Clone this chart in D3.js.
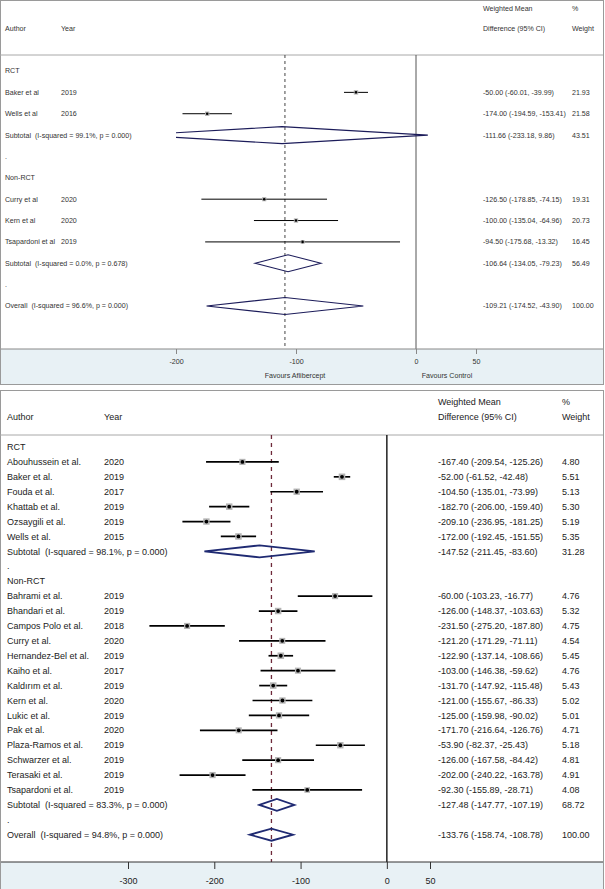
<!DOCTYPE html>
<html>
<head>
<meta charset="utf-8">
<script src="https://cdn.jsdelivr.net/npm/d3@7/dist/d3.min.js"></script>
<style>
  html, body { margin: 0; padding: 0; background: #fff; }
  svg { display: block; font-family: "Liberation Sans", Arial, sans-serif; }
</style>
</head>
<body>
<svg id="chart" width="605" height="889"></svg>
<script>
// ---------- TOP PANEL DATA ----------
const topLabels = ["RCT", "Baker et al", "Wells et al", "Subtotal  (I-squared = 99.1%, p = 0.000)", ".",
  "Non-RCT", "Curry et al", "Kern et al", "Tsapardoni et al", "Subtotal  (I-squared = 0.0%, p = 0.678)", ".",
  "Overall  (I-squared = 96.6%, p = 0.000)"];
const topYears = ["", "2019", "2016", "", "", "", "2020", "2020", "2019", "", "", ""];
const topTypes = ["head", "study", "study", "pool", "dot", "head", "study", "study", "study", "pool", "dot", "pool"];
const topEst = [null, -50.00, -174.00, -111.66, null, null, -126.50, -100.00, -94.50, -106.64, null, -109.21];
const topLo  = [null, -60.01, -194.59, -233.18, null, null, -178.85, -135.04, -175.68, -134.05, null, -174.52];
const topHi  = [null, -39.99, -153.41, 9.86, null, null, -74.15, -64.96, -13.32, -79.23, null, -43.90];
const topWeight = [null, 21.93, 21.58, 43.51, null, null, 19.31, 20.73, 16.45, 56.49, null, 100.00];
const topTicks = [-200, -100, 0, 50];

// ---------- BOTTOM PANEL DATA ----------
const botLabels = ["RCT", "Abouhussein et al.", "Baker et al.", "Fouda et al.", "Khattab et al.", "Ozsaygili et al.", "Wells et al.",
  "Subtotal  (I-squared = 98.1%, p = 0.000)", ".", "Non-RCT", "Bahrami et al.", "Bhandari et al.", "Campos Polo et al.",
  "Curry et al.", "Hernandez-Bel et al.", "Kaiho et al.", "Kaldırım et al.", "Kern et al.", "Lukic et al.", "Pak et al.",
  "Plaza-Ramos et al.", "Schwarzer et al.", "Terasaki et al.", "Tsapardoni et al.",
  "Subtotal  (I-squared = 83.3%, p = 0.000)", ".", "Overall  (I-squared = 94.8%, p = 0.000)"];
const botYears = ["", "2020", "2019", "2017", "2019", "2019", "2015", "", "", "", "2019", "2019", "2018", "2020", "2019",
  "2017", "2019", "2020", "2019", "2020", "2019", "2019", "2019", "2019", "", "", ""];
const botTypes = ["head", "study", "study", "study", "study", "study", "study", "pool", "dot", "head",
  "study", "study", "study", "study", "study", "study", "study", "study", "study", "study", "study", "study", "study", "study",
  "pool", "dot", "pool"];
const botEst = [null, -167.40, -52.00, -104.50, -182.70, -209.10, -172.00, -147.52, null, null,
  -60.00, -126.00, -231.50, -121.20, -122.90, -103.00, -131.70, -121.00, -125.00, -171.70, -53.90, -126.00, -202.00, -92.30,
  -127.48, null, -133.76];
const botLo = [null, -209.54, -61.52, -135.01, -206.00, -236.95, -192.45, -211.45, null, null,
  -103.23, -148.37, -275.20, -171.29, -137.14, -146.38, -147.92, -155.67, -159.98, -216.64, -82.37, -167.58, -240.22, -155.89,
  -147.77, null, -158.74];
const botHi = [null, -125.26, -42.48, -73.99, -159.40, -181.25, -151.55, -83.60, null, null,
  -16.77, -103.63, -187.80, -71.11, -108.66, -59.62, -115.48, -86.33, -90.02, -126.76, -25.43, -84.42, -163.78, -28.71,
  -107.19, null, -108.78];
const botWeight = [null, 4.80, 5.51, 5.13, 5.30, 5.19, 5.35, 31.28, null, null,
  4.76, 5.32, 4.75, 4.54, 5.45, 4.76, 5.43, 5.02, 5.01, 4.71, 5.18, 4.81, 4.91, 4.08,
  68.72, null, 100.00];
const botTicks = [-300, -200, -100, 0, 50];

const svg = d3.select("#chart");
const fmt = v => v.toFixed(2);

function drawPanel(cfg) {
  const g = svg.append("g");
  const n = cfg.labels.length;
  const x = d3.scaleLinear().domain(cfg.domain).range(cfg.range);
  const y = d3.scaleLinear().domain([0, n - 1]).range(cfg.yRange);
  const rows = d3.range(n).map(i => ({
    i, label: cfg.labels[i], year: cfg.years[i], type: cfg.types[i],
    est: cfg.est[i], lo: cfg.lo[i], hi: cfg.hi[i], w: cfg.weight[i]
  }));

  // axis band
  g.append("rect").attr("x", 1).attr("y", cfg.bandTop).attr("width", 602)
    .attr("height", cfg.bandBottom - cfg.bandTop).attr("fill", "#e8f1f5");

  // frame
  g.append("rect").attr("x", 0.5).attr("y", cfg.frameTop + 0.5).attr("width", 603)
    .attr("height", cfg.frameBottom - cfg.frameTop - 1).attr("fill", "none")
    .attr("stroke", "#9a9a9a").attr("stroke-width", 1);

  // header separator
  g.append("line").attr("x1", 0).attr("x2", 603).attr("y1", cfg.sepY).attr("y2", cfg.sepY)
    .attr("stroke", "#a8a8a8").attr("stroke-width", 1);

  const tcol = cfg.textColor;
  const fs = cfg.fontSize;
  // headers
  const hdr = [
    [cfg.colAuthor, cfg.hdrY2, "Author"], [cfg.colYear, cfg.hdrY2, "Year"],
    [cfg.colStat, cfg.hdrY1, "Weighted Mean"], [cfg.colStat, cfg.hdrY2, "Difference (95% CI)"],
    [cfg.colWeight, cfg.hdrY1, "%"], [cfg.colWeight, cfg.hdrY2, "Weight"]
  ];
  g.selectAll("text.hdr").data(hdr).join("text").attr("class", "hdr")
    .attr("x", d => d[0]).attr("y", d => d[1]).attr("dy", "0.35em")
    .attr("font-size", fs).attr("fill", tcol).text(d => d[2]);

  // null line and pooled dashed line
  g.append("line").attr("x1", x(0)).attr("x2", x(0)).attr("y1", cfg.sepY).attr("y2", cfg.bandTop)
    .attr("stroke", cfg.zeroColor).attr("stroke-width", cfg.zeroWidth);
  const overall = rows[n - 1];
  g.append("line").attr("x1", x(overall.est)).attr("x2", x(overall.est))
    .attr("y1", cfg.sepY).attr("y2", cfg.bandTop)
    .attr("stroke", cfg.dashColor).attr("stroke-width", cfg.dashWidth)
    .attr("stroke-dasharray", cfg.dash);

  // clip for marks
  const clipId = "clip" + cfg.id;
  g.append("clipPath").attr("id", clipId).append("rect")
    .attr("x", x(cfg.domain[0])).attr("y", cfg.sepY)
    .attr("width", x(cfg.domain[1]) - x(cfg.domain[0])).attr("height", cfg.bandTop - cfg.sepY);
  const marks = g.append("g").attr("clip-path", `url(#${clipId})`);

  const studies = rows.filter(r => r.type === "study");
  marks.selectAll("line.ci").data(studies).join("line").attr("class", "ci")
    .attr("x1", d => x(d.lo)).attr("x2", d => x(d.hi)).attr("y1", d => y(d.i)).attr("y2", d => y(d.i))
    .attr("stroke", "#000").attr("stroke-width", cfg.ciWidth);
  marks.selectAll("rect.box").data(studies).join("rect").attr("class", "box")
    .attr("x", d => x(d.est) - cfg.boxK * Math.sqrt(d.w) / 2)
    .attr("y", d => y(d.i) - cfg.boxK * Math.sqrt(d.w) / 2)
    .attr("width", d => cfg.boxK * Math.sqrt(d.w)).attr("height", d => cfg.boxK * Math.sqrt(d.w))
    .attr("fill", "#b4b4b4");
  marks.selectAll("circle.pt").data(studies).join("circle").attr("class", "pt")
    .attr("cx", d => x(d.est)).attr("cy", d => y(d.i)).attr("r", cfg.dotR).attr("fill", "#000");

  const pools = rows.filter(r => r.type === "pool");
  marks.selectAll("polygon.dia").data(pools).join("polygon").attr("class", "dia")
    .attr("points", d => [[x(d.lo), y(d.i)], [x(d.est), y(d.i) - cfg.diaH], [x(d.hi), y(d.i)], [x(d.est), y(d.i) + cfg.diaH]]
      .map(p => p.join(",")).join(" "))
    .attr("fill", "none").attr("stroke", cfg.diaColor).attr("stroke-width", cfg.diaWidth)
    .attr("stroke-linejoin", "miter");

  // row texts
  g.selectAll("text.lab").data(rows).join("text").attr("class", "lab")
    .attr("x", cfg.colAuthor).attr("y", d => y(d.i)).attr("dy", "0.35em")
    .attr("font-size", fs).attr("fill", tcol).attr("xml:space", "preserve")
    .style("white-space", "pre").text(d => d.label);
  g.selectAll("text.yr").data(rows.filter(r => r.year)).join("text").attr("class", "yr")
    .attr("x", cfg.colYear).attr("y", d => y(d.i)).attr("dy", "0.35em")
    .attr("font-size", fs).attr("fill", tcol).text(d => d.year);
  const withStat = rows.filter(r => r.est !== null);
  g.selectAll("text.st").data(withStat).join("text").attr("class", "st")
    .attr("x", cfg.colStat).attr("y", d => y(d.i)).attr("dy", "0.35em")
    .attr("font-size", fs).attr("fill", tcol)
    .text(d => `${fmt(d.est)} (${fmt(d.lo)}, ${fmt(d.hi)})`);
  g.selectAll("text.wt").data(withStat).join("text").attr("class", "wt")
    .attr("x", cfg.colWeight).attr("y", d => y(d.i)).attr("dy", "0.35em")
    .attr("font-size", fs).attr("fill", tcol).text(d => fmt(d.w));

  // axis
  g.append("line").attr("x1", 1).attr("x2", 603).attr("y1", cfg.bandTop).attr("y2", cfg.bandTop)
    .attr("stroke", cfg.axisColor).attr("stroke-width", 1);
  const axis = d3.axisBottom(x).tickValues(cfg.ticks).tickSize(cfg.tickLen).tickSizeOuter(0)
    .tickFormat(d => String(d));
  const ag = g.append("g").attr("transform", `translate(0,${cfg.bandTop})`).call(axis);
  ag.select(".domain").remove();
  ag.selectAll(".tick line").attr("stroke", cfg.axisColor).attr("stroke-width", 1);
  ag.selectAll(".tick text").attr("font-size", fs).attr("fill", tcol)
    .attr("font-family", "Liberation Sans, Arial, sans-serif").attr("y", cfg.tickLabelDy).attr("dy", "0.35em");

  if (cfg.favours) {
    g.selectAll("text.fav").data(cfg.favours).join("text").attr("class", "fav")
      .attr("x", d => d[0]).attr("y", cfg.favY).attr("dy", "0.35em").attr("text-anchor", "middle")
      .attr("font-size", fs).attr("fill", tcol).text(d => d[1]);
  }
}

drawPanel({
  id: "top", labels: topLabels, years: topYears, types: topTypes, est: topEst, lo: topLo, hi: topHi, weight: topWeight,
  domain: [-200, 50], range: [176, 476], yRange: [71, 306], ticks: topTicks,
  frameTop: 0, frameBottom: 385, bandTop: 349, bandBottom: 384, sepY: 55,
  hdrY1: 9, hdrY2: 29, colAuthor: 5, colYear: 61, colStat: 483, colWeight: 572,
  fontSize: 7.1, textColor: "#333",
  zeroColor: "#555", zeroWidth: 1, dashColor: "#444", dashWidth: 1, dash: "3,3",
  ciWidth: 1, boxK: 0.95, dotR: 1.3, diaH: 8.5, diaColor: "#1c1c5a", diaWidth: 1.1,
  axisColor: "#888", tickLen: 5, tickLabelDy: 13,
  favours: [[295, "Favours Aflibercept"], [447, "Favours Control"]], favY: 376
});

drawPanel({
  id: "bot", labels: botLabels, years: botYears, types: botTypes, est: botEst, lo: botLo, hi: botHi, weight: botWeight,
  domain: [-300, 50], range: [128, 430], yRange: [447, 834.7], ticks: botTicks,
  frameTop: 390, frameBottom: 890, bandTop: 862, bandBottom: 889, sepY: 435,
  hdrY1: 402, hdrY2: 417, colAuthor: 7, colYear: 104, colStat: 438, colWeight: 562,
  fontSize: 9, textColor: "#222",
  zeroColor: "#111", zeroWidth: 1.4, dashColor: "#6e2a3a", dashWidth: 1.3, dash: "4,4",
  ciWidth: 1.7, boxK: 2.8, dotR: 1.9, diaH: 6, diaColor: "#1f2a72", diaWidth: 1.8,
  axisColor: "#333", tickLen: 7, tickLabelDy: 19,
  favours: null
});
</script>
</body>
</html>
